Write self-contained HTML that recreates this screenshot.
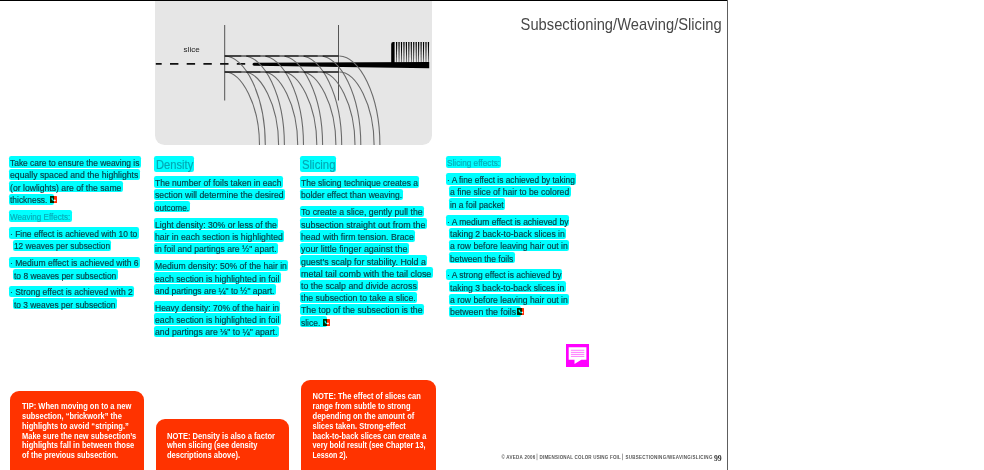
<!DOCTYPE html>
<html><head><meta charset="utf-8"><title>Subsectioning/Weaving/Slicing</title>
<style>
html,body{margin:0;padding:0;background:#fff}
body{width:984px;height:470px;position:relative;overflow:hidden;font-family:"Liberation Sans",sans-serif}
.abs{position:absolute}
.hl{position:absolute;background:#00ffff;border-radius:2.2px;overflow:visible}
.hl span{-webkit-text-stroke:0.18px;position:absolute;white-space:pre;line-height:1;transform-origin:0 50%;display:block}
.ic{position:absolute;background:#ff2a00;border-radius:0.6px;overflow:hidden}
.ic svg{position:absolute;left:0;top:0;width:100%;height:100%}
.ic i{position:absolute;left:0;top:0;height:100%;background:#002a00;display:block}
.ic b{position:absolute;left:0;top:0;height:100%;background:#00ffff;mix-blend-mode:multiply;display:block}
.red{position:absolute;background:#ff3300;border-radius:9px 9px 0 0}
.red div{position:absolute;white-space:pre;color:#fff;font-weight:700;font-size:8.6px;line-height:9.78px;transform-origin:0 0}
</style></head><body>
<div class="abs" style="left:0;top:0;width:728px;height:1px;background:#000"></div>
<div class="abs" style="left:727px;top:0;width:1px;height:470px;background:#5e5e5e"></div>
<div class="abs" style="left:155px;top:1px;width:276.7px;height:143.9px;background:#e6e6e6;border-radius:0 0 9.5px 9.5px"></div>
<svg class="abs" style="left:0;top:0" width="984" height="470" viewBox="0 0 984 470">
<defs><clipPath id="cp"><rect x="155" y="1" width="276.7" height="143.9"/></clipPath></defs>
<g clip-path="url(#cp)">
<line x1="224.7" y1="25" x2="224.7" y2="100.5" stroke="#444" stroke-width="0.9"/>
<line x1="338.5" y1="25" x2="338.5" y2="100.5" stroke="#444" stroke-width="0.9"/>
<line x1="155.8" y1="63.9" x2="250" y2="63.9" stroke="#111" stroke-width="1.6" stroke-dasharray="8.4 8.3" stroke-dashoffset="2.5"/>
<path d="M254 62.7 L429.2 62 L429.2 68.3 L254 65.7 A1.5 1.5 0 0 1 254 62.7Z" fill="#000"/>
<path d="M391.2 63 L391.2 44 Q391.2 42 393.2 42 L394.6 42 L394.6 63Z" fill="#000"/>
<g fill="#000">
<path d="M395.95 42 L397.25 42 L396.80 62.5 L396.40 62.5Z"/>
<path d="M398.40 42 L399.70 42 L399.25 62.5 L398.85 62.5Z"/>
<path d="M400.85 42 L402.15 42 L401.70 62.5 L401.30 62.5Z"/>
<path d="M403.30 42 L404.60 42 L404.15 62.5 L403.75 62.5Z"/>
<path d="M405.75 42 L407.05 42 L406.60 62.5 L406.20 62.5Z"/>
<path d="M408.20 42 L409.50 42 L409.05 62.5 L408.65 62.5Z"/>
<path d="M410.65 42 L411.95 42 L411.50 62.5 L411.10 62.5Z"/>
<path d="M413.10 42 L414.40 42 L413.95 62.5 L413.55 62.5Z"/>
<path d="M415.55 42 L416.85 42 L416.40 62.5 L416.00 62.5Z"/>
<path d="M418.00 42 L419.30 42 L418.85 62.5 L418.45 62.5Z"/>
<path d="M420.45 42 L421.75 42 L421.30 62.5 L420.90 62.5Z"/>
<path d="M422.90 42 L424.20 42 L423.75 62.5 L423.35 62.5Z"/>
<path d="M425.35 42 L426.65 42 L426.20 62.5 L425.80 62.5Z"/>
<path d="M427.80 42 L429.10 42 L428.65 62.5 L428.25 62.5Z"/>
</g>
<g fill="none" stroke="#6a6a6a" stroke-width="1.1">
<path d="M224.7 56 C244.7 56 265.3 95 265.3 145"/>
<path d="M224.7 72 C241.7 72 259.5 105 259.5 145"/>
<path d="M243.8 56 C263.8 56 284.4 95 284.4 145"/>
<path d="M243.8 72 C260.8 72 278.6 105 278.6 145"/>
<path d="M262.9 56 C282.9 56 303.5 95 303.5 145"/>
<path d="M262.9 72 C279.9 72 297.7 105 297.7 145"/>
<path d="M282.0 56 C302.0 56 322.6 95 322.6 145"/>
<path d="M282.0 72 C299.0 72 316.8 105 316.8 145"/>
<path d="M301.1 56 C321.1 56 341.7 95 341.7 145"/>
<path d="M301.1 72 C318.1 72 335.9 105 335.9 145"/>
<path d="M320.2 56 C340.2 56 360.8 95 360.8 145"/>
<path d="M320.2 72 C337.2 72 355.0 105 355.0 145"/>
<path d="M339.3 56 C359.3 56 379.9 95 379.9 145"/>
<path d="M339.3 72 C356.3 72 374.1 105 374.1 145"/>
</g>
<line x1="224.7" y1="56" x2="338.5" y2="56" stroke="#111" stroke-width="1.4"/>
<line x1="224.7" y1="72" x2="338.5" y2="72" stroke="#111" stroke-width="1.4"/>
<g stroke="#8a8a8a" stroke-width="1.3">
<line x1="241.3" x2="246.3" y1="56" y2="56"/>
<line x1="241.3" x2="246.3" y1="72" y2="72"/>
<line x1="260.4" x2="265.4" y1="56" y2="56"/>
<line x1="260.4" x2="265.4" y1="72" y2="72"/>
<line x1="279.5" x2="284.5" y1="56" y2="56"/>
<line x1="279.5" x2="284.5" y1="72" y2="72"/>
<line x1="298.6" x2="303.6" y1="56" y2="56"/>
<line x1="298.6" x2="303.6" y1="72" y2="72"/>
<line x1="317.7" x2="322.7" y1="56" y2="56"/>
<line x1="317.7" x2="322.7" y1="72" y2="72"/>
</g>
</g>
<text x="183.6" y="51.5" font-family="Liberation Sans, sans-serif" font-size="7.6" fill="#222" textLength="16.2" lengthAdjust="spacingAndGlyphs">slice</text>
</svg>
<svg class="abs" style="left:0;top:0" width="984" height="470"><text x="520.6" y="30.2" font-family="Liberation Sans, sans-serif" font-size="16.1" fill="#484848" textLength="201" lengthAdjust="spacingAndGlyphs">Subsectioning/Weaving/Slicing</text></svg>
<div class="hl" style="left:9.2px;top:156.3px;width:131.6px;height:11.4px"><span style="left:1.1px;top:1.67px;font-size:9.6px;color:#083a42;transform:scaleX(0.8760)">Take care to ensure the weaving is</span></div>
<div class="hl" style="left:9.2px;top:168.8px;width:130.5px;height:11.2px"><span style="left:1.1px;top:1.47px;font-size:9.6px;color:#083a42;transform:scaleX(0.9042)">equally spaced and the highlights</span></div>
<div class="hl" style="left:9.2px;top:181.2px;width:113.6px;height:11.3px"><span style="left:1.1px;top:1.57px;font-size:9.6px;color:#083a42;transform:scaleX(0.9005)">(or lowlights) are of the same</span></div>
<div class="hl" style="left:9.2px;top:193.7px;width:44.8px;height:11.3px"><span style="left:1.1px;top:1.57px;font-size:9.6px;color:#083a42;transform:scaleX(0.8765)">thickness.</span></div>
<div class="hl" style="left:9.2px;top:210.3px;width:62.5px;height:11.4px"><span style="left:1.1px;top:1.67px;font-size:9.6px;color:#08aab6;transform:scaleX(0.8417)">Weaving Effects:</span></div>
<div class="hl" style="left:9.2px;top:227.3px;width:129.5px;height:11.5px"><span style="left:1.1px;top:1.77px;font-size:9.6px;color:#083a42;transform:scaleX(0.8787)">· Fine effect is achieved with 10 to</span></div>
<div class="hl" style="left:13.0px;top:239.8px;width:98.2px;height:11.2px"><span style="left:1.1px;top:1.47px;font-size:9.6px;color:#083a42;transform:scaleX(0.8654)">12 weaves per subsection</span></div>
<div class="hl" style="left:9.2px;top:256.8px;width:130.8px;height:11.4px"><span style="left:1.1px;top:1.67px;font-size:9.6px;color:#083a42;transform:scaleX(0.8910)">· Medium effect is achieved with 6</span></div>
<div class="hl" style="left:13.0px;top:269.2px;width:104.5px;height:11.1px"><span style="left:1.1px;top:1.37px;font-size:9.6px;color:#083a42;transform:scaleX(0.8799)">to 8 weaves per subsection</span></div>
<div class="hl" style="left:9.2px;top:285.8px;width:125.0px;height:11.4px"><span style="left:1.1px;top:1.67px;font-size:9.6px;color:#083a42;transform:scaleX(0.8867)">· Strong effect is achieved with 2</span></div>
<div class="hl" style="left:13.0px;top:298.3px;width:103.7px;height:11.2px"><span style="left:1.1px;top:1.47px;font-size:9.6px;color:#083a42;transform:scaleX(0.8730)">to 3 weaves per subsection</span></div>
<div class="hl" style="left:154.2px;top:156.3px;width:40.0px;height:15.3px"><span style="left:2.3px;top:2.73px;font-size:12.6px;color:#00a8b4;transform:scaleX(0.8881)">Density</span></div>
<div class="hl" style="left:154.2px;top:176.3px;width:128.6px;height:11.3px"><span style="left:1.1px;top:1.57px;font-size:9.6px;color:#083a42;transform:scaleX(0.8910)">The number of foils taken in each</span></div>
<div class="hl" style="left:154.2px;top:188.7px;width:130.8px;height:11.3px"><span style="left:1.1px;top:1.57px;font-size:9.6px;color:#083a42;transform:scaleX(0.9065)">section will determine the desired</span></div>
<div class="hl" style="left:154.2px;top:201.2px;width:36.3px;height:11.3px"><span style="left:1.1px;top:1.57px;font-size:9.6px;color:#083a42;transform:scaleX(0.8640)">outcome.</span></div>
<div class="hl" style="left:154.2px;top:218.0px;width:124.1px;height:11.4px"><span style="left:1.1px;top:1.67px;font-size:9.6px;color:#083a42;transform:scaleX(0.8963)">Light density: 30% or less of the</span></div>
<div class="hl" style="left:154.2px;top:230.3px;width:130.0px;height:11.4px"><span style="left:1.1px;top:1.67px;font-size:9.6px;color:#083a42;transform:scaleX(0.9042)">hair in each section is highlighted</span></div>
<div class="hl" style="left:154.2px;top:242.8px;width:123.8px;height:11.4px"><span style="left:1.1px;top:1.67px;font-size:9.6px;color:#083a42;transform:scaleX(0.8963)">in foil and partings are ½" apart.</span></div>
<div class="hl" style="left:154.2px;top:259.7px;width:134.1px;height:11.3px"><span style="left:1.1px;top:1.57px;font-size:9.6px;color:#083a42;transform:scaleX(0.8961)">Medium density: 50% of the hair in</span></div>
<div class="hl" style="left:154.2px;top:272.0px;width:126.6px;height:11.3px"><span style="left:1.1px;top:1.57px;font-size:9.6px;color:#083a42;transform:scaleX(0.9040)">each section is highlighted in foil</span></div>
<div class="hl" style="left:154.2px;top:284.2px;width:121.6px;height:11.2px"><span style="left:1.1px;top:1.47px;font-size:9.6px;color:#083a42;transform:scaleX(0.8822)">and partings are ¼" to ½" apart.</span></div>
<div class="hl" style="left:154.2px;top:301.2px;width:126.3px;height:11.3px"><span style="left:1.1px;top:1.57px;font-size:9.6px;color:#083a42;transform:scaleX(0.8847)">Heavy density: 70% of the hair in</span></div>
<div class="hl" style="left:154.2px;top:313.3px;width:126.6px;height:11.4px"><span style="left:1.1px;top:1.67px;font-size:9.6px;color:#083a42;transform:scaleX(0.9040)">each section is highlighted in foil</span></div>
<div class="hl" style="left:154.2px;top:325.5px;width:124.6px;height:11.5px"><span style="left:1.1px;top:1.77px;font-size:9.6px;color:#083a42;transform:scaleX(0.9044)">and partings are ⅛" to ¼" apart.</span></div>
<div class="hl" style="left:300.0px;top:156.3px;width:36.2px;height:15.3px"><span style="left:2.3px;top:2.73px;font-size:12.6px;color:#00a8b4;transform:scaleX(0.9027)">Slicing</span></div>
<div class="hl" style="left:300.0px;top:176.3px;width:119.2px;height:11.3px"><span style="left:1.1px;top:1.57px;font-size:9.6px;color:#083a42;transform:scaleX(0.8846)">The slicing technique creates a</span></div>
<div class="hl" style="left:300.0px;top:188.7px;width:103.3px;height:11.3px"><span style="left:1.1px;top:1.57px;font-size:9.6px;color:#083a42;transform:scaleX(0.8830)">bolder effect than weaving.</span></div>
<div class="hl" style="left:300.0px;top:205.8px;width:123.8px;height:11.4px"><span style="left:1.1px;top:1.67px;font-size:9.6px;color:#083a42;transform:scaleX(0.9084)">To create a slice, gently pull the</span></div>
<div class="hl" style="left:300.0px;top:218.0px;width:126.7px;height:11.4px"><span style="left:1.1px;top:1.67px;font-size:9.6px;color:#083a42;transform:scaleX(0.9301)">subsection straight out from the</span></div>
<div class="hl" style="left:300.0px;top:230.3px;width:115.0px;height:11.4px"><span style="left:1.1px;top:1.67px;font-size:9.6px;color:#083a42;transform:scaleX(0.9117)">head with firm tension. Brace</span></div>
<div class="hl" style="left:300.0px;top:242.8px;width:108.7px;height:11.4px"><span style="left:1.1px;top:1.67px;font-size:9.6px;color:#083a42;transform:scaleX(0.9287)">your little finger against the</span></div>
<div class="hl" style="left:300.0px;top:255.0px;width:127.0px;height:11.3px"><span style="left:1.1px;top:1.57px;font-size:9.6px;color:#083a42;transform:scaleX(0.9166)">guest’s scalp for stability. Hold a</span></div>
<div class="hl" style="left:300.0px;top:267.2px;width:132.5px;height:11.2px"><span style="left:1.1px;top:1.47px;font-size:9.6px;color:#083a42;transform:scaleX(0.9292)">metal tail comb with the tail close</span></div>
<div class="hl" style="left:300.0px;top:279.6px;width:118.0px;height:11.2px"><span style="left:1.1px;top:1.47px;font-size:9.6px;color:#083a42;transform:scaleX(0.9161)">to the scalp and divide across</span></div>
<div class="hl" style="left:300.0px;top:291.7px;width:117.0px;height:11.3px"><span style="left:1.1px;top:1.57px;font-size:9.6px;color:#083a42;transform:scaleX(0.9121)">the subsection to take a slice.</span></div>
<div class="hl" style="left:300.0px;top:303.8px;width:123.8px;height:11.3px"><span style="left:1.1px;top:1.57px;font-size:9.6px;color:#083a42;transform:scaleX(0.9119)">The top of the subsection is the</span></div>
<div class="hl" style="left:300.0px;top:316.2px;width:26.7px;height:11.3px"><span style="left:1.1px;top:1.57px;font-size:9.6px;color:#083a42;transform:scaleX(0.8829)">slice.</span></div>
<div class="hl" style="left:445.7px;top:156.3px;width:55.3px;height:11.5px"><span style="left:1.1px;top:1.77px;font-size:9.6px;color:#08aab6;transform:scaleX(0.8608)">Slicing effects:</span></div>
<div class="hl" style="left:445.7px;top:173.3px;width:130.0px;height:11.4px"><span style="left:1.1px;top:1.67px;font-size:9.6px;color:#083a42;transform:scaleX(0.8692)">· A fine effect is achieved by taking</span></div>
<div class="hl" style="left:449.3px;top:185.8px;width:121.4px;height:11.4px"><span style="left:1.1px;top:1.67px;font-size:9.6px;color:#083a42;transform:scaleX(0.8976)">a fine slice of hair to be colored</span></div>
<div class="hl" style="left:449.3px;top:198.3px;width:55.9px;height:11.3px"><span style="left:1.1px;top:1.57px;font-size:9.6px;color:#083a42;transform:scaleX(0.8754)">in a foil packet</span></div>
<div class="hl" style="left:445.7px;top:215.1px;width:123.6px;height:11.4px"><span style="left:1.1px;top:1.67px;font-size:9.6px;color:#083a42;transform:scaleX(0.8835)">· A medium effect is achieved by</span></div>
<div class="hl" style="left:449.3px;top:227.5px;width:117.0px;height:11.2px"><span style="left:1.1px;top:1.47px;font-size:9.6px;color:#083a42;transform:scaleX(0.8970)">taking 2 back-to-back slices in</span></div>
<div class="hl" style="left:449.3px;top:239.7px;width:120.0px;height:11.3px"><span style="left:1.1px;top:1.57px;font-size:9.6px;color:#083a42;transform:scaleX(0.8978)">a row before leaving hair out in</span></div>
<div class="hl" style="left:449.3px;top:252.0px;width:65.5px;height:11.3px"><span style="left:1.1px;top:1.57px;font-size:9.6px;color:#083a42;transform:scaleX(0.8792)">between the foils</span></div>
<div class="hl" style="left:445.7px;top:268.7px;width:116.6px;height:11.3px"><span style="left:1.1px;top:1.57px;font-size:9.6px;color:#083a42;transform:scaleX(0.8803)">· A strong effect is achieved by</span></div>
<div class="hl" style="left:449.3px;top:281.2px;width:116.4px;height:11.3px"><span style="left:1.1px;top:1.57px;font-size:9.6px;color:#083a42;transform:scaleX(0.8923)">taking 3 back-to-back slices in</span></div>
<div class="hl" style="left:449.3px;top:293.6px;width:120.0px;height:11.2px"><span style="left:1.1px;top:1.47px;font-size:9.6px;color:#083a42;transform:scaleX(0.8978)">a row before leaving hair out in</span></div>
<div class="hl" style="left:449.3px;top:305.8px;width:72.2px;height:11.2px"><span style="left:1.1px;top:1.47px;font-size:9.6px;color:#083a42;transform:scaleX(0.9181)">between the foils</span></div>
<div class="ic" style="left:50.0px;top:196.1px;width:6.6px;height:6.5px"><i style="width:4.0px"></i><svg viewBox="0 0 64 67" preserveAspectRatio="none"><path d="M14 18 L26 18 C26 36 32 42 44 42 L44 30 L58 46 L44 60 L44 52 C24 52 14 40 14 18Z" fill="#fff"/></svg><b style="width:4.0px"></b></div>
<div class="ic" style="left:322.8px;top:319.0px;width:6.8px;height:6.5px"><i style="width:3.9px"></i><svg viewBox="0 0 64 67" preserveAspectRatio="none"><path d="M14 18 L26 18 C26 36 32 42 44 42 L44 30 L58 46 L44 60 L44 52 C24 52 14 40 14 18Z" fill="#fff"/></svg><b style="width:3.9px"></b></div>
<div class="ic" style="left:517.2px;top:308.4px;width:7.0px;height:6.5px"><i style="width:4.4px"></i><svg viewBox="0 0 64 67" preserveAspectRatio="none"><path d="M14 18 L26 18 C26 36 32 42 44 42 L44 30 L58 46 L44 60 L44 52 C24 52 14 40 14 18Z" fill="#fff"/></svg><b style="width:4.4px"></b></div>
<div class="abs" style="left:566.2px;top:344px;width:23.1px;height:23.2px;background:#ff00ff"></div>
<svg class="abs" style="left:566.2px;top:344px" width="23.1" height="23.2" viewBox="0 0 23.1 23.2">
<path d="M2.7 3.2 H20.4 V15.7 H15.3 L8.5 19.9 V15.7 H2.7Z" fill="#fff"/>
<g stroke="#ff6cff" stroke-width="0.9"><line x1="4.9" x2="18.3" y1="6.3" y2="6.3"/><line x1="4.9" x2="18.3" y1="8.4" y2="8.4"/><line x1="4.9" x2="18.3" y1="10.4" y2="10.4"/><line x1="4.9" x2="18.3" y1="12.4" y2="12.4"/></g>
</svg>
<div class="red" style="left:10px;top:390.8px;width:134.3px;height:80.19999999999999px"></div>
<svg class="abs" style="left:0;top:0" width="984" height="470"><g font-family="Liberation Sans, sans-serif" font-weight="700" font-size="8.8" fill="#fff">
<text x="22.0" y="409.05" textLength="109.3" lengthAdjust="spacingAndGlyphs">TIP: When moving on to a new</text>
<text x="22.0" y="418.88" textLength="99.8" lengthAdjust="spacingAndGlyphs">subsection, “brickwork” the</text>
<text x="22.0" y="428.71" textLength="106.8" lengthAdjust="spacingAndGlyphs">highlights to avoid “striping.”</text>
<text x="22.0" y="438.54" textLength="114.3" lengthAdjust="spacingAndGlyphs">Make sure the new subsection’s</text>
<text x="22.0" y="448.37" textLength="112.3" lengthAdjust="spacingAndGlyphs">highlights fall in between those</text>
<text x="22.0" y="458.20" textLength="96.0" lengthAdjust="spacingAndGlyphs">of the previous subsection.</text>
</g></svg>
<div class="red" style="left:155.8px;top:418.8px;width:133.7px;height:52.19999999999999px"></div>
<svg class="abs" style="left:0;top:0" width="984" height="470"><g font-family="Liberation Sans, sans-serif" font-weight="700" font-size="8.8" fill="#fff">
<text x="167.0" y="438.54" textLength="108.0" lengthAdjust="spacingAndGlyphs">NOTE: Density is also a factor</text>
<text x="167.0" y="448.37" textLength="90.5" lengthAdjust="spacingAndGlyphs">when slicing (see density</text>
<text x="167.0" y="458.20" textLength="73.0" lengthAdjust="spacingAndGlyphs">descriptions above).</text>
</g></svg>
<div class="red" style="left:301.3px;top:380px;width:134.4px;height:91px"></div>
<svg class="abs" style="left:0;top:0" width="984" height="470"><g font-family="Liberation Sans, sans-serif" font-weight="700" font-size="8.8" fill="#fff">
<text x="312.5" y="399.22" textLength="108.3" lengthAdjust="spacingAndGlyphs">NOTE: The effect of slices can</text>
<text x="312.5" y="409.05" textLength="98.0" lengthAdjust="spacingAndGlyphs">range from subtle to strong</text>
<text x="312.5" y="418.88" textLength="101.8" lengthAdjust="spacingAndGlyphs">depending on the amount of</text>
<text x="312.5" y="428.71" textLength="93.3" lengthAdjust="spacingAndGlyphs">slices taken. Strong-effect</text>
<text x="312.5" y="438.54" textLength="113.8" lengthAdjust="spacingAndGlyphs">back-to-back slices can create a</text>
<text x="312.5" y="448.37" textLength="113.0" lengthAdjust="spacingAndGlyphs">very bold result (see Chapter 13,</text>
<text x="312.5" y="458.20" textLength="35.0" lengthAdjust="spacingAndGlyphs">Lesson 2).</text>
</g></svg>
<svg class="abs" style="left:0;top:0" width="984" height="470"><g font-family="Liberation Sans, sans-serif" font-size="4.5" font-weight="700" fill="#585858"><text x="501.4" y="458.8" textLength="33.8" lengthAdjust="spacing">© AVEDA 2006</text><text x="539.5" y="458.8" textLength="81.3" lengthAdjust="spacing">DIMENSIONAL COLOR USING FOIL</text><text x="625.4" y="458.8" textLength="87" lengthAdjust="spacing">SUBSECTIONING/WEAVING/SLICING</text></g><rect x="536.7" y="453.6" width="0.6" height="6.6" fill="#666"/><rect x="622.3" y="453.6" width="0.6" height="6.6" fill="#666"/><text x="713.9" y="460.8" font-family="Liberation Serif, serif" font-weight="700" font-size="9.1" fill="#333" textLength="7.7" lengthAdjust="spacingAndGlyphs">99</text></svg>
</body></html>
